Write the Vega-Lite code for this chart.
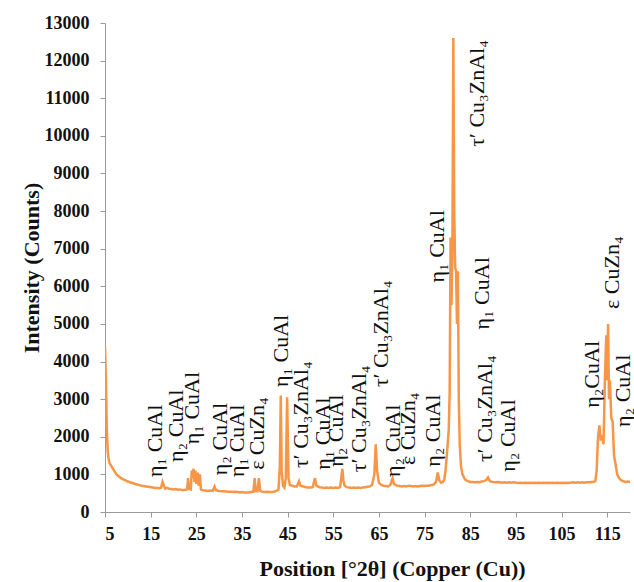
{
  "$schema": "https://vega.github.io/schema/vega-lite/v6.json",
  "autosize": "none",
  "width": 525,
  "height": 489,
  "padding": {"left": 105, "top": 23, "right": 4, "bottom": 70},
  "background": "white",
  "config": {
    "view": {"stroke": null},
    "axis": {
      "grid": false,
      "domainColor": "#9a9a9a",
      "tickColor": "#9a9a9a",
      "tickSize": 5,
      "labelFont": "Liberation Serif",
      "labelFontWeight": "bold",
      "labelFontSize": 18,
      "labelColor": "#111111",
      "titleFont": "Liberation Serif",
      "titleFontWeight": "bold",
      "titleFontSize": 22,
      "titleColor": "#111111"
    }
  },
  "datasets": {
    "xrd": [
      {"pos": 5.0, "cnt": 4400}, {"pos": 5.2, "cnt": 3500}, {"pos": 5.4, "cnt": 2200}, {"pos": 5.6, "cnt": 1600},
      {"pos": 5.8, "cnt": 1400}, {"pos": 6.0, "cnt": 1300}, {"pos": 6.5, "cnt": 1200}, {"pos": 7.0, "cnt": 1100},
      {"pos": 7.5, "cnt": 1000}, {"pos": 8.0, "cnt": 950}, {"pos": 8.5, "cnt": 900}, {"pos": 9.0, "cnt": 870},
      {"pos": 9.5, "cnt": 840}, {"pos": 10, "cnt": 810}, {"pos": 10.5, "cnt": 790}, {"pos": 11, "cnt": 770},
      {"pos": 11.5, "cnt": 750}, {"pos": 12, "cnt": 730}, {"pos": 12.5, "cnt": 720}, {"pos": 13, "cnt": 700},
      {"pos": 13.5, "cnt": 690}, {"pos": 14, "cnt": 680}, {"pos": 14.5, "cnt": 670}, {"pos": 15, "cnt": 660},
      {"pos": 15.5, "cnt": 650}, {"pos": 16, "cnt": 640}, {"pos": 16.5, "cnt": 640}, {"pos": 17, "cnt": 630},
      {"pos": 17.3, "cnt": 650}, {"pos": 17.6, "cnt": 800}, {"pos": 17.9, "cnt": 700}, {"pos": 18.2, "cnt": 620},
      {"pos": 18.6, "cnt": 640}, {"pos": 19, "cnt": 620}, {"pos": 19.5, "cnt": 610}, {"pos": 20, "cnt": 600},
      {"pos": 20.5, "cnt": 610}, {"pos": 21, "cnt": 590}, {"pos": 21.5, "cnt": 600}, {"pos": 22, "cnt": 580},
      {"pos": 22.5, "cnt": 590}, {"pos": 23.0, "cnt": 600}, {"pos": 23.2, "cnt": 900}, {"pos": 23.4, "cnt": 620},
      {"pos": 23.8, "cnt": 600}, {"pos": 24.0, "cnt": 1100}, {"pos": 24.2, "cnt": 900}, {"pos": 24.4, "cnt": 1150},
      {"pos": 24.6, "cnt": 800}, {"pos": 24.8, "cnt": 1100}, {"pos": 25.0, "cnt": 750}, {"pos": 25.3, "cnt": 1050},
      {"pos": 25.5, "cnt": 700}, {"pos": 25.8, "cnt": 1000}, {"pos": 26.0, "cnt": 600}, {"pos": 26.5, "cnt": 580},
      {"pos": 27, "cnt": 570}, {"pos": 27.5, "cnt": 560}, {"pos": 28, "cnt": 570}, {"pos": 28.6, "cnt": 560},
      {"pos": 29.0, "cnt": 680}, {"pos": 29.3, "cnt": 580}, {"pos": 30, "cnt": 560}, {"pos": 30.5, "cnt": 550},
      {"pos": 31, "cnt": 550}, {"pos": 31.5, "cnt": 545}, {"pos": 32, "cnt": 540}, {"pos": 32.5, "cnt": 540},
      {"pos": 33, "cnt": 530}, {"pos": 33.5, "cnt": 540}, {"pos": 34, "cnt": 530}, {"pos": 34.5, "cnt": 520},
      {"pos": 35, "cnt": 530}, {"pos": 35.5, "cnt": 520}, {"pos": 36, "cnt": 520}, {"pos": 36.5, "cnt": 520},
      {"pos": 37, "cnt": 530}, {"pos": 37.5, "cnt": 540}, {"pos": 37.8, "cnt": 900}, {"pos": 38.0, "cnt": 560},
      {"pos": 38.4, "cnt": 550}, {"pos": 38.7, "cnt": 900}, {"pos": 39.0, "cnt": 560}, {"pos": 39.5, "cnt": 540},
      {"pos": 40, "cnt": 530}, {"pos": 40.5, "cnt": 540}, {"pos": 41, "cnt": 530}, {"pos": 41.5, "cnt": 530},
      {"pos": 42, "cnt": 540}, {"pos": 42.5, "cnt": 560}, {"pos": 43.0, "cnt": 600}, {"pos": 43.3, "cnt": 1200},
      {"pos": 43.5, "cnt": 3100}, {"pos": 43.7, "cnt": 1100}, {"pos": 44.0, "cnt": 700}, {"pos": 44.3, "cnt": 650},
      {"pos": 44.6, "cnt": 900}, {"pos": 44.9, "cnt": 3050}, {"pos": 45.2, "cnt": 900}, {"pos": 45.5, "cnt": 720},
      {"pos": 46, "cnt": 700}, {"pos": 46.5, "cnt": 680}, {"pos": 47, "cnt": 680}, {"pos": 47.5, "cnt": 820},
      {"pos": 47.8, "cnt": 700}, {"pos": 48.5, "cnt": 680}, {"pos": 49, "cnt": 660}, {"pos": 49.5, "cnt": 650},
      {"pos": 50, "cnt": 650}, {"pos": 50.5, "cnt": 660}, {"pos": 51.0, "cnt": 900}, {"pos": 51.3, "cnt": 700},
      {"pos": 52, "cnt": 660}, {"pos": 52.5, "cnt": 650}, {"pos": 53, "cnt": 640}, {"pos": 53.5, "cnt": 650},
      {"pos": 54, "cnt": 640}, {"pos": 54.5, "cnt": 650}, {"pos": 55, "cnt": 640}, {"pos": 55.5, "cnt": 650},
      {"pos": 56, "cnt": 640}, {"pos": 56.5, "cnt": 660}, {"pos": 57.0, "cnt": 1150}, {"pos": 57.2, "cnt": 850},
      {"pos": 57.5, "cnt": 700}, {"pos": 58, "cnt": 660}, {"pos": 58.5, "cnt": 650}, {"pos": 59, "cnt": 640},
      {"pos": 59.5, "cnt": 650}, {"pos": 60, "cnt": 640}, {"pos": 60.5, "cnt": 650}, {"pos": 61, "cnt": 640},
      {"pos": 61.5, "cnt": 650}, {"pos": 62, "cnt": 660}, {"pos": 62.5, "cnt": 670}, {"pos": 63, "cnt": 680},
      {"pos": 63.5, "cnt": 720}, {"pos": 64.0, "cnt": 1000}, {"pos": 64.3, "cnt": 1800}, {"pos": 64.6, "cnt": 1100},
      {"pos": 65.0, "cnt": 780}, {"pos": 65.5, "cnt": 720}, {"pos": 66, "cnt": 700}, {"pos": 66.5, "cnt": 690},
      {"pos": 67, "cnt": 680}, {"pos": 67.5, "cnt": 720}, {"pos": 68.0, "cnt": 900}, {"pos": 68.3, "cnt": 740},
      {"pos": 69, "cnt": 700}, {"pos": 69.5, "cnt": 690}, {"pos": 70, "cnt": 680}, {"pos": 70.5, "cnt": 690},
      {"pos": 71, "cnt": 680}, {"pos": 71.5, "cnt": 700}, {"pos": 72, "cnt": 690}, {"pos": 72.5, "cnt": 680},
      {"pos": 73, "cnt": 690}, {"pos": 73.5, "cnt": 680}, {"pos": 74, "cnt": 690}, {"pos": 74.5, "cnt": 700},
      {"pos": 75, "cnt": 690}, {"pos": 75.5, "cnt": 700}, {"pos": 76, "cnt": 700}, {"pos": 76.5, "cnt": 720},
      {"pos": 77, "cnt": 730}, {"pos": 77.5, "cnt": 800}, {"pos": 77.9, "cnt": 1050}, {"pos": 78.2, "cnt": 850},
      {"pos": 78.6, "cnt": 780}, {"pos": 79.0, "cnt": 800}, {"pos": 79.3, "cnt": 850}, {"pos": 79.6, "cnt": 1100},
      {"pos": 80.0, "cnt": 1700}, {"pos": 80.3, "cnt": 2200}, {"pos": 80.5, "cnt": 3200}, {"pos": 80.7, "cnt": 7300},
      {"pos": 80.9, "cnt": 5500}, {"pos": 81.1, "cnt": 7000}, {"pos": 81.3, "cnt": 12600}, {"pos": 81.5, "cnt": 8000},
      {"pos": 81.7, "cnt": 6500}, {"pos": 81.9, "cnt": 6400}, {"pos": 82.1, "cnt": 5000}, {"pos": 82.3, "cnt": 6400},
      {"pos": 82.5, "cnt": 3000}, {"pos": 82.7, "cnt": 1800}, {"pos": 83.0, "cnt": 1200}, {"pos": 83.3, "cnt": 1000},
      {"pos": 83.7, "cnt": 900}, {"pos": 84, "cnt": 850}, {"pos": 84.5, "cnt": 820}, {"pos": 85, "cnt": 800},
      {"pos": 85.5, "cnt": 800}, {"pos": 86, "cnt": 790}, {"pos": 86.5, "cnt": 800}, {"pos": 87, "cnt": 790},
      {"pos": 87.5, "cnt": 810}, {"pos": 88, "cnt": 820}, {"pos": 88.5, "cnt": 850}, {"pos": 88.9, "cnt": 920},
      {"pos": 89.3, "cnt": 820}, {"pos": 90, "cnt": 800}, {"pos": 90.5, "cnt": 790}, {"pos": 91, "cnt": 800},
      {"pos": 91.5, "cnt": 790}, {"pos": 92, "cnt": 780}, {"pos": 92.5, "cnt": 790}, {"pos": 93, "cnt": 780},
      {"pos": 93.5, "cnt": 790}, {"pos": 94, "cnt": 780}, {"pos": 94.5, "cnt": 790}, {"pos": 95, "cnt": 780},
      {"pos": 95.5, "cnt": 770}, {"pos": 96, "cnt": 780}, {"pos": 96.5, "cnt": 770}, {"pos": 97, "cnt": 780},
      {"pos": 97.5, "cnt": 770}, {"pos": 98, "cnt": 780}, {"pos": 98.5, "cnt": 770}, {"pos": 99, "cnt": 780},
      {"pos": 99.5, "cnt": 770}, {"pos": 100, "cnt": 780}, {"pos": 100.5, "cnt": 770}, {"pos": 101, "cnt": 780},
      {"pos": 101.5, "cnt": 770}, {"pos": 102, "cnt": 780}, {"pos": 102.5, "cnt": 770}, {"pos": 103, "cnt": 780},
      {"pos": 103.5, "cnt": 770}, {"pos": 104, "cnt": 780}, {"pos": 104.5, "cnt": 770}, {"pos": 105, "cnt": 780},
      {"pos": 105.5, "cnt": 770}, {"pos": 106, "cnt": 780}, {"pos": 106.5, "cnt": 770}, {"pos": 107, "cnt": 780},
      {"pos": 107.5, "cnt": 790}, {"pos": 108, "cnt": 780}, {"pos": 108.5, "cnt": 790}, {"pos": 109, "cnt": 780},
      {"pos": 109.5, "cnt": 790}, {"pos": 110, "cnt": 780}, {"pos": 110.5, "cnt": 790}, {"pos": 111, "cnt": 790},
      {"pos": 111.5, "cnt": 800}, {"pos": 112, "cnt": 800}, {"pos": 112.4, "cnt": 820}, {"pos": 112.7, "cnt": 1100},
      {"pos": 113.0, "cnt": 2000}, {"pos": 113.3, "cnt": 2300}, {"pos": 113.6, "cnt": 1900}, {"pos": 113.9, "cnt": 2050},
      {"pos": 114.2, "cnt": 1800}, {"pos": 114.5, "cnt": 3500}, {"pos": 114.8, "cnt": 4700}, {"pos": 115.0, "cnt": 3500},
      {"pos": 115.2, "cnt": 5000}, {"pos": 115.4, "cnt": 3000}, {"pos": 115.6, "cnt": 3500}, {"pos": 115.9, "cnt": 2500},
      {"pos": 116.2, "cnt": 2400}, {"pos": 116.5, "cnt": 1500}, {"pos": 116.8, "cnt": 1300}, {"pos": 117.2, "cnt": 1000},
      {"pos": 117.6, "cnt": 900}, {"pos": 118, "cnt": 850}, {"pos": 118.5, "cnt": 820}, {"pos": 119, "cnt": 800},
      {"pos": 119.5, "cnt": 810}, {"pos": 120, "cnt": 800}
    ],
    "labels": [
      {"pos": 16.0, "cnt": 930, "label": "η₁ CuAl"},
      {"pos": 20.6, "cnt": 1330, "label": "η₂ CuAl"},
      {"pos": 24.1, "cnt": 1800, "label": "η₁ CuAl"},
      {"pos": 30.2, "cnt": 980, "label": "η₂ CuAl"},
      {"pos": 33.9, "cnt": 930, "label": "η₁ CuAl"},
      {"pos": 38.3, "cnt": 1120, "label": "ε CuZn₄"},
      {"pos": 43.6, "cnt": 3320, "label": "η₁ CuAl"},
      {"pos": 47.9, "cnt": 1170, "label": "τ′ Cu₃ZnAl₄"},
      {"pos": 52.7, "cnt": 1120, "label": "η₁ CuAl"},
      {"pos": 55.6, "cnt": 1200, "label": "η₂ CuAl"},
      {"pos": 60.6, "cnt": 1060, "label": "τ′ Cu₃ZnAl₄"},
      {"pos": 65.4, "cnt": 3320, "label": "τ′ Cu₃ZnAl₄"},
      {"pos": 68.1, "cnt": 930, "label": "η₂ CuAl"},
      {"pos": 71.4, "cnt": 1250, "label": "ε CuZn₄"},
      {"pos": 76.9, "cnt": 1200, "label": "η₂ CuAl"},
      {"pos": 77.8, "cnt": 6100, "label": "η₁ CuAl"},
      {"pos": 86.4, "cnt": 9710, "label": "τ′ Cu₃ZnAl₄"},
      {"pos": 87.5, "cnt": 4850, "label": "η₁ CuAl"},
      {"pos": 88.2, "cnt": 1330, "label": "τ′ Cu₃ZnAl₄"},
      {"pos": 93.3, "cnt": 1070, "label": "η₂ CuAl"},
      {"pos": 111.6, "cnt": 2770, "label": "η₂CuAl"},
      {"pos": 116.1, "cnt": 5400, "label": "ε CuZn₄"},
      {"pos": 118.5, "cnt": 2260, "label": "η₂ CuAl"}
    ]
  },
  "encoding": {
    "x": {
      "field": "pos", "type": "quantitative",
      "scale": {"domain": [5, 120], "nice": false, "zero": false},
      "axis": {
        "title": "Position [°2θ] (Copper (Cu))",
        "values": [5, 15, 25, 35, 45, 55, 65, 75, 85, 95, 105, 115],
        "labelOverlap": false,
        "labelPadding": 8,
        "titlePadding": 15,
        "titleX": 287
      }
    },
    "y": {
      "field": "cnt", "type": "quantitative",
      "scale": {"domain": [0, 13000], "nice": false, "zero": true},
      "axis": {
        "title": "Intensity (Counts)",
        "tickCount": 13,
        "tickMinStep": 1000,
        "format": "d",
        "labelOverlap": false,
        "labelBound": false,
        "labelPadding": 11,
        "titlePadding": 1
      }
    }
  },
  "layer": [
    {
      "data": {"name": "xrd"},
      "mark": {"type": "line", "color": "#F79646", "strokeWidth": 2.5, "clip": true}
    },
    {
      "data": {"name": "labels"},
      "mark": {"type": "text", "angle": 270, "align": "left", "baseline": "middle", "font": "Liberation Serif", "fontSize": 22, "color": "#111111"},
      "encoding": {
        "text": {"field": "label", "type": "nominal"}
      }
    }
  ]
}
